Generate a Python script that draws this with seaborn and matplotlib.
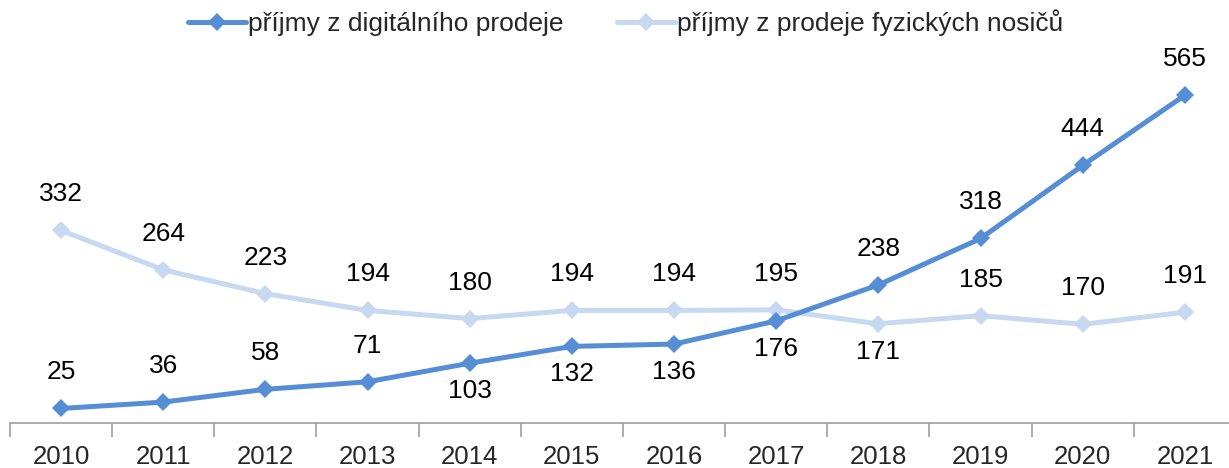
import numpy as np
import pandas as pd
import matplotlib
matplotlib.use("Agg")
import matplotlib.pyplot as plt
import seaborn as sns

years = ["2010", "2011", "2012", "2013", "2014", "2015", "2016", "2017", "2018", "2019", "2020", "2021"]
digital = [25, 36, 58, 71, 103, 132, 136, 176, 238, 318, 444, 565]
physical = [332, 264, 223, 194, 180, 194, 194, 195, 171, 185, 170, 191]
# label position: 1 = above, -1 = below
digital_pos = [1, 1, 1, 1, -1, -1, -1, -1, 1, 1, 1, 1]
physical_pos = [1, 1, 1, 1, 1, 1, 1, 1, -1, 1, 1, 1]

name_d = "příjmy z digitálního prodeje"
name_p = "příjmy z prodeje fyzických nosičů"

df = pd.DataFrame({
    "rok": years * 2,
    "x": list(range(len(years))) * 2,
    "hodnota": digital + physical,
    "serie": [name_d] * len(years) + [name_p] * len(years),
})

sns.set_style("white")
plt.rcParams["font.family"] = ["Liberation Sans", "DejaVu Sans"]

fig = plt.figure(figsize=(12.29, 4.68), dpi=100)
ax = fig.add_axes([0.0081, 0.0962, 0.9976, 0.7438])

colors = {name_d: "#558ED5", name_p: "#C6D9F1"}
sns.lineplot(data=df, x="x", y="hodnota", hue="serie", palette=colors,
             hue_order=[name_p, name_d], style="serie", markers=["D", "D"], dashes=False,
             markersize=9, markeredgewidth=0, linewidth=3.6, ax=ax, legend=False)

for vals, pos in [(digital, digital_pos), (physical, physical_pos)]:
    for i, (v, p) in enumerate(zip(vals, pos)):
        ax.annotate(str(v), (i, v), xytext=(0, 36 if p > 0 else -28), textcoords="offset pixels",
                    ha="center", va="center", fontsize=19, color="black")

ax.set_xlim(-0.5, len(years) - 0.5)
ax.set_ylim(0, 600)
ax.set_xticks(range(len(years)))
ax.set_xticklabels(years, fontsize=18.5)
ax.set_xticks(np.arange(-0.5, len(years), 1), minor=True)
ax.tick_params(axis="x", which="major", length=0, pad=16)
ax.tick_params(axis="x", which="minor", length=10, width=1.3, color="#A6A6A6", direction="out", bottom=True)
ax.set_yticks([])
ax.set_xlabel("")
ax.set_ylabel("")
for s in ["top", "right", "left"]:
    ax.spines[s].set_visible(False)
ax.spines["bottom"].set_color("#A6A6A6")
ax.spines["bottom"].set_linewidth(1.3)

handles = [plt.Line2D([], [], color=colors[n], marker="D", markersize=9, markeredgewidth=0, linewidth=3.6)
           for n in [name_d, name_p]]
fig.legend(handles, [name_d, name_p], loc="center", bbox_to_anchor=(0.509, 0.952), ncol=2,
           frameon=False, fontsize=19, handlelength=2.2, handletextpad=0.1, columnspacing=2.0)

fig.savefig("out.png", dpi=100)
